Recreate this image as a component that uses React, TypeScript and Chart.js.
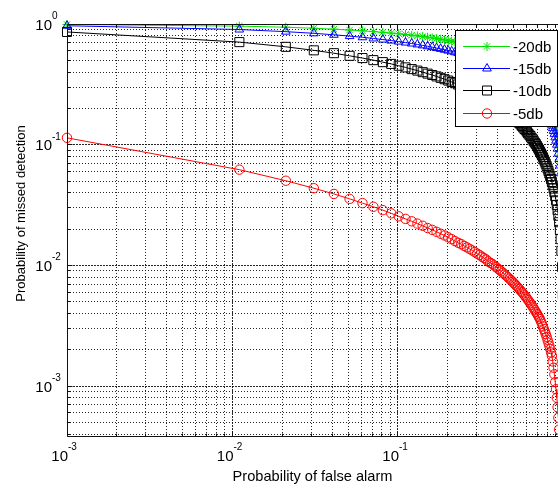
import React, { useEffect, useRef } from 'react';
import { Chart, registerables } from 'chart.js';

Chart.register(...registerables);

// ---------- data ----------
const PF = [
  0.001, 0.011, 0.021, 0.031, 0.041, 0.051, 0.061, 0.071, 0.081, 0.091,
  0.101, 0.111, 0.121, 0.131, 0.141, 0.151, 0.161, 0.171, 0.181, 0.191,
  0.201, 0.211, 0.221, 0.231, 0.241, 0.251, 0.261, 0.271, 0.281, 0.291,
  0.301, 0.311, 0.321, 0.331, 0.341, 0.351, 0.361, 0.371, 0.381, 0.391,
  0.401, 0.411, 0.421, 0.431, 0.441, 0.451, 0.461, 0.471, 0.481, 0.491,
  0.501, 0.511, 0.521, 0.531, 0.541, 0.551, 0.561, 0.571, 0.581, 0.591,
  0.601, 0.611, 0.621, 0.631, 0.641, 0.651, 0.661, 0.671, 0.681, 0.691,
  0.701, 0.711, 0.721, 0.731, 0.741, 0.751, 0.761, 0.771, 0.781, 0.791,
  0.801, 0.811, 0.821, 0.831, 0.841, 0.851, 0.861, 0.871, 0.881, 0.891,
  0.901, 0.911, 0.921, 0.931, 0.941, 0.951, 0.961, 0.971, 0.981, 0.991,
];

const PM_20DB = [
  0.991, 0.960, 0.940, 0.922, 0.906, 0.892, 0.878, 0.865, 0.853, 0.841,
  0.830, 0.819, 0.808, 0.797, 0.787, 0.777, 0.767, 0.757, 0.747, 0.738,
  0.728, 0.719, 0.710, 0.701, 0.692, 0.683, 0.674, 0.666, 0.657, 0.649,
  0.640, 0.632, 0.623, 0.615, 0.607, 0.598, 0.590, 0.582, 0.574, 0.566,
  0.558, 0.550, 0.541, 0.534, 0.525, 0.518, 0.510, 0.502, 0.494, 0.486,
  0.478, 0.470, 0.462, 0.455, 0.447, 0.439, 0.431, 0.423, 0.415, 0.407,
  0.399, 0.392, 0.384, 0.376, 0.368, 0.360, 0.352, 0.344, 0.336, 0.328,
  0.320, 0.312, 0.303, 0.295, 0.287, 0.278, 0.270, 0.262, 0.253, 0.245,
  0.236, 0.227, 0.218, 0.210, 0.200, 0.191, 0.182, 0.172, 0.163, 0.153,
  0.143, 0.132, 0.122, 0.111, 0.099, 0.0873, 0.0746, 0.0608, 0.0456, 0.0275,
];

const PM_15DB = [
  0.967, 0.900, 0.864, 0.837, 0.814, 0.794, 0.776, 0.759, 0.743, 0.729,
  0.715, 0.702, 0.689, 0.677, 0.665, 0.654, 0.643, 0.632, 0.622, 0.612,
  0.602, 0.593, 0.583, 0.574, 0.565, 0.556, 0.548, 0.539, 0.531, 0.523,
  0.515, 0.506, 0.499, 0.491, 0.483, 0.476, 0.468, 0.461, 0.453, 0.446,
  0.439, 0.431, 0.424, 0.418, 0.410, 0.404, 0.397, 0.390, 0.383, 0.376,
  0.370, 0.363, 0.356, 0.350, 0.343, 0.337, 0.330, 0.324, 0.317, 0.311,
  0.305, 0.298, 0.292, 0.286, 0.279, 0.273, 0.267, 0.260, 0.254, 0.248,
  0.241, 0.235, 0.228, 0.222, 0.216, 0.210, 0.203, 0.197, 0.190, 0.184,
  0.177, 0.171, 0.164, 0.157, 0.150, 0.144, 0.137, 0.130, 0.123, 0.115,
  0.108, 0.100, 0.0926, 0.0846, 0.0761, 0.0673, 0.0580, 0.0479, 0.0366, 0.0229,
];

const PM_10DB = [
  0.859, 0.708, 0.647, 0.605, 0.573, 0.545, 0.522, 0.502, 0.483, 0.467,
  0.451, 0.437, 0.423, 0.411, 0.399, 0.388, 0.378, 0.368, 0.358, 0.349,
  0.340, 0.331, 0.323, 0.315, 0.308, 0.300, 0.294, 0.287, 0.280, 0.274,
  0.267, 0.261, 0.255, 0.249, 0.244, 0.238, 0.232, 0.227, 0.222, 0.217,
  0.212, 0.207, 0.202, 0.197, 0.193, 0.188, 0.184, 0.179, 0.175, 0.171,
  0.166, 0.162, 0.158, 0.154, 0.151, 0.147, 0.143, 0.139, 0.135, 0.132,
  0.128, 0.124, 0.121, 0.118, 0.114, 0.111, 0.107, 0.104, 0.101, 0.0975,
  0.0943, 0.0911, 0.0879, 0.0847, 0.0817, 0.0787, 0.0755, 0.0725, 0.0696, 0.0666,
  0.0636, 0.0607, 0.0577, 0.0548, 0.0519, 0.0491, 0.0462, 0.0433, 0.0404, 0.0375,
  0.0346, 0.0317, 0.0287, 0.0258, 0.0228, 0.0197, 0.0165, 0.0132, 0.0097, 0.0057,
];

const PM_5DB = [
  0.114, 0.0621, 0.0503, 0.0436, 0.0391, 0.0356, 0.0328, 0.0306, 0.0287, 0.0270,
  0.0255, 0.0243, 0.0232, 0.0222, 0.0213, 0.0204, 0.0197, 0.0190, 0.0183, 0.0177,
  0.0171, 0.0165, 0.0159, 0.0154, 0.0150, 0.0145, 0.0141, 0.0137, 0.0133, 0.0129,
  0.0125, 0.0122, 0.0118, 0.0115, 0.0112, 0.0108, 0.0105, 0.0103, 0.0100, 0.00970,
  0.00941, 0.00917, 0.00892, 0.00868, 0.00843, 0.00820, 0.00798, 0.00777, 0.00756, 0.00735,
  0.00714, 0.00693, 0.00674, 0.00655, 0.00637, 0.00618, 0.00601, 0.00585, 0.00566, 0.00550,
  0.00533, 0.00516, 0.00501, 0.00485, 0.00470, 0.00455, 0.00441, 0.00425, 0.00412, 0.00399,
  0.00385, 0.00372, 0.00359, 0.00343, 0.00328, 0.00312, 0.00297, 0.00283, 0.00270, 0.00256,
  0.00242, 0.00229, 0.00216, 0.00203, 0.00190, 0.00178, 0.00160, 0.00142, 0.00125, 0.00108,
  0.000942, 0.000800, 0.000668, 0.000547, 0.000436, 0.000335, 0.000244, 0.000162, 0.000093, 0.000036,
];

const SERIES_LABELS = ['-20db', '-15db', '-10db', '-5db'];
const SERIES_VALUES = [PM_20DB, PM_15DB, PM_10DB, PM_5DB];
const SERIES_COLORS = ['rgb(0,225,0)', 'rgb(0,0,255)', 'rgb(0,0,0)', 'rgb(255,0,0)'];
const POINT_STYLES = ['star', 'triangle', 'rect', 'circle'];
const POINT_RADII = [4.5, 5, 6.4, 4.7];

const X_GRID = [
  0.001, 0.002, 0.003, 0.004, 0.005, 0.006, 0.007, 0.008, 0.009,
  0.01, 0.02, 0.03, 0.04, 0.05, 0.06, 0.07, 0.08, 0.09,
  0.1, 0.2, 0.3, 0.4, 0.5, 0.6, 0.7, 0.8, 0.9,
];
const Y_GRID = [
  0.0004, 0.0005, 0.0006, 0.0007, 0.0008, 0.0009,
  0.001, 0.002, 0.003, 0.004, 0.005, 0.006, 0.007, 0.008, 0.009,
  0.01, 0.02, 0.03, 0.04, 0.05, 0.06, 0.07, 0.08, 0.09,
  0.1, 0.2, 0.3, 0.4, 0.5, 0.6, 0.7, 0.8, 0.9, 1,
];
const X_MAJOR = [0.001, 0.01, 0.1];
const X_MAJOR_EXP = ['-3', '-2', '-1'];
const Y_MAJOR = [0.001, 0.01, 0.1, 1];
const Y_MAJOR_EXP = ['-3', '-2', '-1', '0'];

const X_MIN = 0.001;
const X_MAX = 0.991;
const Y_MIN = 3.86e-4;
const Y_MAX = 1;

const X_TITLE = 'Probability of false alarm';
const Y_TITLE = 'Probability of missed detection';

// ---------- layout / style ----------
const W = 580;
const H = 487;
const FONT = '"Liberation Sans", Arial, Helvetica, sans-serif';
const AREA = { left: 67, top: 24, right: 562.85, bottom: 436 };

function drawMarker(ctx: CanvasRenderingContext2D, style: string, x: number, y: number, color: string) {
  ctx.save();
  ctx.strokeStyle = color;
  ctx.lineWidth = 1;
  ctx.setLineDash([]);
  ctx.beginPath();
  if (style === 'star') {
    const r = 4.5;
    const d = r * Math.SQRT1_2;
    ctx.moveTo(x - r, y); ctx.lineTo(x + r, y);
    ctx.moveTo(x, y - r); ctx.lineTo(x, y + r);
    ctx.moveTo(x - d, y - d); ctx.lineTo(x + d, y + d);
    ctx.moveTo(x - d, y + d); ctx.lineTo(x + d, y - d);
  } else if (style === 'triangle') {
    const r = 5;
    ctx.moveTo(x, y - r);
    ctx.lineTo(x + r * 0.866, y + r / 2);
    ctx.lineTo(x - r * 0.866, y + r / 2);
    ctx.closePath();
  } else if (style === 'rect') {
    ctx.rect(x - 4.5, y - 4.5, 9, 9);
  } else {
    ctx.arc(x, y, 4.7, 0, Math.PI * 2);
  }
  ctx.stroke();
  ctx.restore();
}

const matlabAxes = {
  id: 'matlabAxes',
  beforeDatasetsDraw(chart: any) {
    const { ctx, chartArea: a, scales } = chart;
    const xs = scales.x;
    const ys = scales.y;
    ctx.save();
    ctx.strokeStyle = 'rgba(0,0,0,0.85)';
    ctx.lineWidth = 1;
    X_GRID.forEach((v) => {
      const p = xs.getPixelForValue(v);
      if (p < a.left + 1 || p > a.right) return;
      const px = Math.floor(p) + 0.5;
      ctx.setLineDash(X_MAJOR.includes(v) ? [2, 1] : [1, 2]);
      ctx.beginPath();
      ctx.moveTo(px, a.bottom);
      ctx.lineTo(px, a.top);
      ctx.stroke();
    });
    Y_GRID.forEach((v) => {
      const p = ys.getPixelForValue(v);
      if (p < a.top + 1 || p > a.bottom - 1) return;
      const py = Math.floor(p) + 0.5;
      ctx.setLineDash(Y_MAJOR.includes(v) ? [2, 1] : [1, 2]);
      ctx.beginPath();
      ctx.moveTo(a.left, py);
      ctx.lineTo(a.right, py);
      ctx.stroke();
    });
    ctx.restore();
  },
  afterDatasetsDraw(chart: any) {
    const { ctx, chartArea: a, scales } = chart;
    const xs = scales.x;
    const ys = scales.y;
    ctx.save();
    ctx.setLineDash([]);
    ctx.strokeStyle = '#111';
    ctx.lineWidth = 1;
    const L = Math.floor(a.left) + 0.5;
    const T = Math.floor(a.top) + 0.5;
    const B = Math.floor(a.bottom) + 0.5;
    ctx.beginPath();
    ctx.moveTo(a.right, T); ctx.lineTo(L, T); ctx.lineTo(L, B); ctx.lineTo(a.right, B);
    ctx.stroke();
    ctx.beginPath();
    X_GRID.forEach((v) => {
      const p = xs.getPixelForValue(v);
      if (p > a.right) return;
      const px = Math.floor(p) + 0.5;
      const len = X_MAJOR.includes(v) ? 5 : 3;
      ctx.moveTo(px, B); ctx.lineTo(px, B - len);
      ctx.moveTo(px, T); ctx.lineTo(px, T + len);
    });
    Y_GRID.forEach((v) => {
      const p = ys.getPixelForValue(v);
      if (p > a.bottom) return;
      const py = Math.floor(p) + 0.5;
      const len = Y_MAJOR.includes(v) ? 5 : 3;
      ctx.moveTo(L, py); ctx.lineTo(L + len, py);
    });
    ctx.stroke();

    ctx.fillStyle = '#000';
    X_MAJOR.forEach((v, i) => {
      const px = xs.getPixelForValue(v);
      ctx.font = `15px ${FONT}`;
      ctx.textAlign = 'right';
      ctx.textBaseline = 'alphabetic';
      ctx.fillText('10', px + 1, 461);
      ctx.font = `10px ${FONT}`;
      ctx.textAlign = 'left';
      ctx.fillText(X_MAJOR_EXP[i], px + 1, 450);
    });
    Y_MAJOR.forEach((v, i) => {
      const py = ys.getPixelForValue(v);
      ctx.font = `15px ${FONT}`;
      ctx.textAlign = 'right';
      ctx.textBaseline = 'alphabetic';
      ctx.fillText('10', 52, py + 5.5);
      ctx.font = `10px ${FONT}`;
      ctx.textAlign = 'left';
      ctx.fillText(Y_MAJOR_EXP[i], 52, py - 5);
    });

    ctx.font = `14.6px ${FONT}`;
    ctx.textAlign = 'center';
    ctx.textBaseline = 'alphabetic';
    ctx.fillText(X_TITLE, 312.5, 481);
    ctx.save();
    ctx.translate(25, 213.5);
    ctx.rotate(-Math.PI / 2);
    ctx.font = `13px ${FONT}`;
    ctx.fillText(Y_TITLE, 0, 0);
    ctx.restore();

    const bx = 455.5, by = 30.5, bw = 102, bh = 96;
    ctx.fillStyle = '#fff';
    ctx.fillRect(bx, by, bw, bh);
    ctx.strokeStyle = '#000';
    ctx.strokeRect(bx, by, bw, bh);
    SERIES_LABELS.forEach((label, i) => {
      const ry = 46 + i * 22.4;
      const c = SERIES_COLORS[i];
      ctx.strokeStyle = c;
      ctx.lineWidth = 1;
      ctx.beginPath();
      ctx.moveTo(463, Math.floor(ry) + 0.5);
      ctx.lineTo(510, Math.floor(ry) + 0.5);
      ctx.stroke();
      drawMarker(ctx, POINT_STYLES[i], 487, Math.floor(ry) + 0.5, c);
      ctx.fillStyle = '#000';
      ctx.font = `15px ${FONT}`;
      ctx.textAlign = 'left';
      ctx.textBaseline = 'alphabetic';
      ctx.fillText(label, 513, ry + 5.5);
    });
    ctx.restore();
  },
};

export default function App() {
  const ref = useRef<HTMLCanvasElement>(null);
  useEffect(() => {
    const canvas = ref.current;
    if (!canvas) return;
    const datasets = SERIES_LABELS.map((label, i) => ({
      label,
      data: PF.map((x, j) => ({ x, y: SERIES_VALUES[i][j] })),
      borderColor: SERIES_COLORS[i],
      backgroundColor: 'rgba(0,0,0,0)',
      borderWidth: 1,
      pointStyle: POINT_STYLES[i],
      pointRadius: POINT_RADII[i],
      pointHoverRadius: POINT_RADII[i],
      pointBorderColor: SERIES_COLORS[i],
      pointBackgroundColor: 'rgba(0,0,0,0)',
      pointBorderWidth: 1,
      tension: 0,
      fill: false,
      order: SERIES_LABELS.length - i,
      clip: { left: 12, top: 12, right: 12, bottom: 0 },
    }));
    const chart = new Chart(canvas, {
      type: 'line',
      data: { datasets } as any,
      options: {
        animation: false,
        responsive: false,
        devicePixelRatio: 1,
        events: [],
        layout: {
          padding: {
            left: AREA.left,
            top: AREA.top,
            right: W - AREA.right,
            bottom: H - AREA.bottom,
          },
        },
        plugins: {
          legend: { display: false },
          tooltip: { enabled: false },
          title: { display: false },
        },
        scales: {
          x: {
            type: 'logarithmic',
            min: X_MIN,
            max: X_MAX,
            grid: { display: false },
            border: { display: false },
            ticks: { display: false },
            afterFit: (s: any) => { s.height = 0; },
          },
          y: {
            type: 'logarithmic',
            min: Y_MIN,
            max: Y_MAX,
            grid: { display: false },
            border: { display: false },
            ticks: { display: false },
            afterFit: (s: any) => { s.width = 0; },
          },
        },
      } as any,
      plugins: [matlabAxes],
    });
    return () => chart.destroy();
  }, []);

  return (
    <div
      style={{
        position: 'fixed',
        left: 0,
        top: 0,
        width: 558,
        height: 487,
        overflow: 'hidden',
        background: '#fff',
      }}
    >
      <canvas ref={ref} width={W} height={H} style={{ display: 'block', width: W, height: H }} />
    </div>
  );
}
